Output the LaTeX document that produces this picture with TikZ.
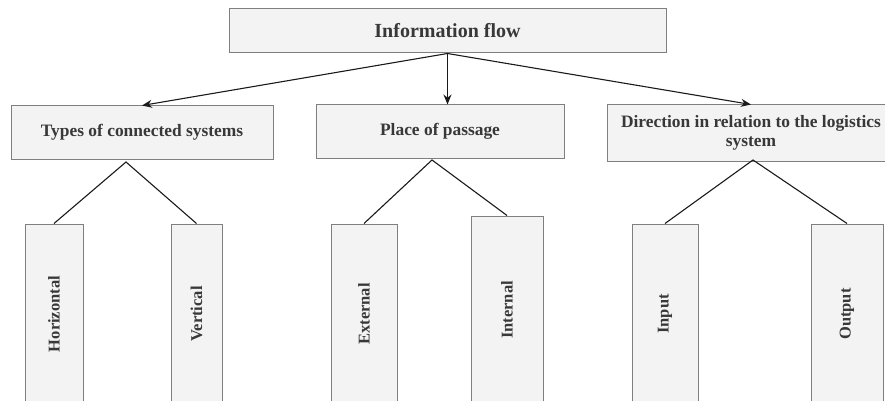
\documentclass[tikz,border=0pt]{standalone}
\usepackage{fontspec}
\setmainfont{Liberation Serif}
\usetikzlibrary{arrows.meta,calc}
\definecolor{boxfill}{HTML}{F3F3F3}
\definecolor{boxline}{HTML}{7F7F7F}
\definecolor{txt}{HTML}{383838}
\definecolor{lnk}{HTML}{1A1A1A}
\tikzset{
  catbox/.style={draw=boxline, fill=boxfill, line width=1pt, inner sep=0pt,
    text=txt, font=\bfseries\fontsize{17.4}{19}\selectfont, align=center},
  leafbox/.style={draw=boxline, fill=boxfill, line width=1pt, inner sep=0pt,
    text=txt, font=\bfseries\fontsize{16.5}{18}\selectfont},
  flowarrow/.style={draw=lnk, line width=1.1pt, -{Stealth[length=10pt,width=8pt]}},
  branch/.style={draw=lnk, line width=1.1pt}
}
\begin{document}
\begin{tikzpicture}[x=1pt,y=-1pt]
\useasboundingbox (0,0) rectangle (885,401);
\clip (0,0) rectangle (885,401);
% top
\node[catbox, font=\bfseries\fontsize{20}{22}\selectfont, minimum width=437pt, minimum height=44pt] (top) at (447.5,31) {Information flow};
% categories
\node[catbox, minimum width=262pt, minimum height=53pt] (types) at (142,132.5) {Types of connected systems};
\node[catbox, minimum width=248pt, minimum height=53pt] (place) at (440,131.5) {Place of passage};
\node[catbox, minimum width=288pt, minimum height=56pt] (dir) at (751,133) {Direction in relation to the logistics\\system};
% arrows
\draw[flowarrow] (top.south) -- (types.north);
\draw[flowarrow] (top.south) -- (top.south |- place.north);
\draw[flowarrow] (top.south) -- (dir.north);
% leaves
\node[leafbox, minimum width=58pt, minimum height=180pt] (hor) at (54,314) {\rotatebox{90}{Horizontal}};
\node[leafbox, minimum width=51pt, minimum height=180pt] (ver) at (196.5,314) {\rotatebox{90}{Vertical}};
\node[leafbox, minimum width=66pt, minimum height=180pt] (ext) at (364,314) {\rotatebox{90}{External}};
\node[leafbox, minimum width=72pt, minimum height=188pt] (int) at (507,310) {\rotatebox{90}{Internal}};
\node[leafbox, minimum width=66pt, minimum height=180pt] (inp) at (665,314) {\rotatebox{90}{Input}};
\node[leafbox, minimum width=72pt, minimum height=180pt] (out) at (847,314) {\rotatebox{90}{Output}};
% apexes
\coordinate (a1) at (126,162);
\coordinate (a2) at (432,160);
\coordinate (a3) at (753,160);
\draw[branch] (hor.north) -- (a1) -- (ver.north);
\draw[branch] (ext.north) -- (a2) -- (int.north);
\draw[branch] (inp.north) -- (a3) -- (out.north);
\end{tikzpicture}
\end{document}
